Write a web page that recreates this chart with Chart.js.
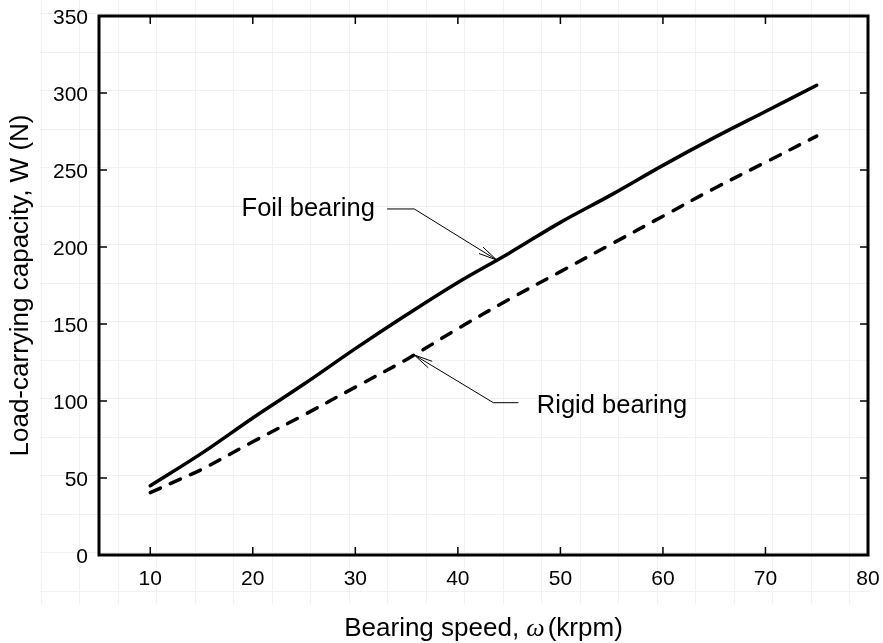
<!DOCTYPE html>
<html>
<head>
<meta charset="utf-8">
<script src="https://cdn.jsdelivr.net/npm/chart.js@4.4.0/dist/chart.umd.min.js"></script>
<style>
  html, body { margin: 0; padding: 0; background: #fff; }
</style>
</head>
<body>
<canvas id="canvas-load" width="883" height="643"></canvas>
<script>
// Load-carrying capacity vs bearing speed
// =============================================================

const speedFoil = [10, 15, 20, 25, 30, 35, 40, 45, 50, 55, 60, 65, 70, 75]
const loadFoil = [45, 66, 89, 111, 134, 156, 177, 196, 216, 234, 253, 271, 288, 305]

const speedRigid = [10, 13, 15, 20, 25, 30, 35, 40, 45, 50, 55, 60, 65, 70, 75]
const loadRigid = [40.5, 49.5, 55.5, 73.5, 91, 109, 127, 147, 166, 184, 202, 220, 238, 255, 272]

const xTicks = [10, 20, 30, 40, 50, 60, 70, 80]
const yTicks = [0, 50, 100, 150, 200, 250, 300, 350]

const SANS = '"Liberation Sans", Arial, Helvetica, sans-serif'

class BearingLoadChart {

  constructor () {
    this.init()
  }

  init () {
    this.lineChart()
  }

  points (xs, ys) {
    return xs.map((x, i) => ({ x: x, y: ys[i] }))
  }

  // no extra room for overhanging tick labels
  noPadding (s) {
    s.paddingLeft = 0
    s.paddingRight = 0
    s.paddingTop = 0
    s.paddingBottom = 0
  }

  // leader line with an open arrow head, positions in data units
  arrow (ctx, xs, ys, label) {
    const tip = { x: xs.getPixelForValue(label.tip[0]), y: ys.getPixelForValue(label.tip[1]) }
    const elbow = { x: xs.getPixelForValue(label.elbow[0]), y: ys.getPixelForValue(label.elbow[1]) }
    const tail = { x: xs.getPixelForValue(label.tail), y: elbow.y }

    ctx.save()
    ctx.strokeStyle = '#000'
    ctx.lineWidth = 1
    ctx.beginPath()
    ctx.moveTo(tail.x, tail.y)
    ctx.lineTo(elbow.x, elbow.y)
    ctx.lineTo(tip.x, tip.y)
    ctx.stroke()

    const ang = Math.atan2(elbow.y - tip.y, elbow.x - tip.x)
    const len = 19
    const spread = 0.2
    ctx.beginPath()
    ctx.moveTo(tip.x + len * Math.cos(ang - spread), tip.y + len * Math.sin(ang - spread))
    ctx.lineTo(tip.x, tip.y)
    ctx.lineTo(tip.x + len * Math.cos(ang + spread), tip.y + len * Math.sin(ang + spread))
    ctx.stroke()

    ctx.fillStyle = '#000'
    ctx.font = '25.5px ' + SANS
    ctx.textBaseline = 'middle'
    ctx.textAlign = label.align
    ctx.fillText(label.text, xs.getPixelForValue(label.textAt[0]), ys.getPixelForValue(label.textAt[1]))
    ctx.restore()
  }

  lineChart () {
    const self = this

    const labels = [
      { text: 'Foil bearing', tip: [43.8, 191.5], elbow: [35.75, 224.7], tail: 33.1, textAt: [31.9, 224.7], align: 'right' },
      { text: 'Rigid bearing', tip: [35.75, 129.9], elbow: [43.46, 98.9], tail: 45.9, textAt: [47.7, 96.8], align: 'left' }
    ]

    const frame = {
      id: 'frame',
      beforeDraw (chart) {
        // faint paper grid behind the figure
        const ctx = chart.ctx
        ctx.save()
        ctx.strokeStyle = '#f1f1f1'
        ctx.lineWidth = 1
        ctx.beginPath()
        for (let x = 40.7; x < 870; x += 38.5) {
          ctx.moveTo(Math.round(x) + 0.5, 0)
          ctx.lineTo(Math.round(x) + 0.5, 604)
        }
        for (let y = 13.3; y < 605; y += 38.5) {
          ctx.moveTo(40, Math.round(y) + 0.5)
          ctx.lineTo(870, Math.round(y) + 0.5)
        }
        ctx.stroke()
        ctx.restore()
      },
      afterDatasetsDraw (chart) {
        const ctx = chart.ctx
        const area = chart.chartArea
        const xs = chart.scales.x
        const ys = chart.scales.y

        ctx.save()
        ctx.strokeStyle = '#000'

        // inward ticks on all four sides
        ctx.lineWidth = 1.5
        ctx.beginPath()
        xTicks.forEach(v => {
          if (v >= 80) return
          const px = xs.getPixelForValue(v)
          ctx.moveTo(px, area.bottom)
          ctx.lineTo(px, area.bottom - 8)
          ctx.moveTo(px, area.top)
          ctx.lineTo(px, area.top + 8)
        })
        yTicks.forEach(v => {
          if (v <= 0 || v >= 350) return
          const py = ys.getPixelForValue(v)
          ctx.moveTo(area.left, py)
          ctx.lineTo(area.left + 8, py)
          ctx.moveTo(area.right, py)
          ctx.lineTo(area.right - 8, py)
        })
        ctx.stroke()

        // plot box
        ctx.lineWidth = 3
        ctx.strokeRect(area.left, area.top, area.right - area.left, area.bottom - area.top)
        ctx.restore()

        labels.forEach(l => self.arrow(ctx, xs, ys, l))

        // axis titles
        ctx.save()
        ctx.fillStyle = '#000'
        ctx.textBaseline = 'alphabetic'
        ctx.textAlign = 'left'
        const a = 'Bearing speed, '
        const b = 'ω'
        const c = '(krpm)'
        ctx.font = '26px ' + SANS
        const wa = ctx.measureText(a).width
        const wc = ctx.measureText(c).width
        ctx.font = 'italic 26px "Liberation Serif", "Times New Roman", serif'
        const wb = ctx.measureText(b).width + 3
        let x0 = (area.left + area.right) / 2 - (wa + wb + wc) / 2
        const base = 636
        ctx.font = '26px ' + SANS
        ctx.fillText(a, x0, base)
        ctx.font = 'italic 26px "Liberation Serif", "Times New Roman", serif'
        ctx.fillText(b, x0 + wa, base)
        ctx.font = '26px ' + SANS
        ctx.fillText(c, x0 + wa + wb, base)

        ctx.translate(21, (area.top + area.bottom) / 2)
        ctx.rotate(-Math.PI / 2)
        ctx.textAlign = 'center'
        ctx.textBaseline = 'middle'
        ctx.fillText('Load-carrying capacity, W (N)', 0, 0)
        ctx.restore()
      }
    }

    const data = {
      type: 'line',
      data: {
        datasets: [{
          label: 'Foil bearing',
          data: this.points(speedFoil, loadFoil),
          borderColor: '#000',
          borderWidth: 3.5,
          borderCapStyle: 'round',
          pointRadius: 0,
          tension: 0.35,
          fill: false
        }, {
          label: 'Rigid bearing',
          data: this.points(speedRigid, loadRigid),
          borderColor: '#000',
          borderWidth: 3.5,
          borderDash: [11, 11],
          borderCapStyle: 'round',
          pointRadius: 0,
          tension: 0.35,
          fill: false
        }]
      },
      options: {
        responsive: false,
        animation: false,
        layout: { padding: { top: 16, right: 15, left: 0, bottom: 0 } },
        plugins: {
          legend: { display: false },
          tooltip: { enabled: false }
        },
        scales: {
          x: {
            type: 'linear',
            min: 5,
            max: 80,
            afterBuildTicks: s => { s.ticks = xTicks.map(v => ({ value: v })) },
            afterFit: s => { s.height = 88; self.noPadding(s) },
            grid: { display: false, drawTicks: false },
            border: { display: false },
            ticks: { color: '#000', font: { family: SANS, size: 21 }, padding: 12, maxRotation: 0 }
          },
          y: {
            type: 'linear',
            min: 0,
            max: 350,
            afterBuildTicks: s => { s.ticks = yTicks.map(v => ({ value: v })) },
            afterFit: s => { s.width = 99; self.noPadding(s) },
            grid: { display: false, drawTicks: false },
            border: { display: false },
            ticks: { color: '#000', font: { family: SANS, size: 21 }, padding: 11, labelOffset: 2 }
          }
        }
      },
      plugins: [frame]
    }

    // init chart
    let chart = new Chart(document.getElementById('canvas-load'), data)
  }
}

new BearingLoadChart()
</script>
</body>
</html>
